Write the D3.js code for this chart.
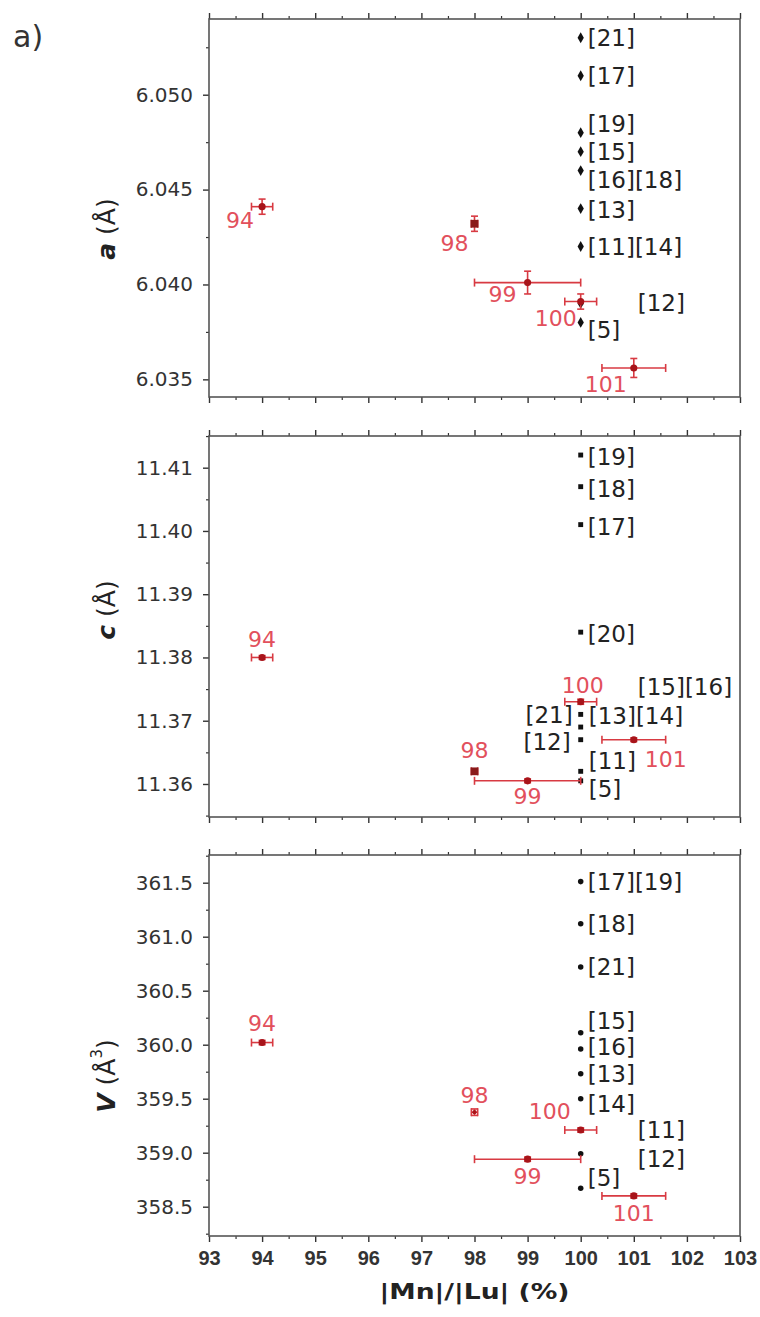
<!DOCTYPE html>
<html><head><meta charset="utf-8">
<script src="https://cdn.jsdelivr.net/npm/d3@7"></script>
<style>body{margin:0;background:#fff}svg{display:block}</style>
</head><body>
<svg id="chart" width="760" height="1317"></svg>
<script>
// ---------- DATA ----------
const xTicks = [93, 94, 95, 96, 97, 98, 99, 100, 101, 102, 103];
const xTitle = "|Mn|/|Lu| (%)";

// red (this work) samples, shared x
const redLabels = ["94", "98", "99", "100", "101"];
const redX      = [94, 98, 99, 100, 101];
const redXErr   = [0.2, 0.06, 1.0, 0.3, 0.6];

// panel a
const aTicks     = [6.035, 6.040, 6.045, 6.050];
const aRedY      = [6.0441, 6.0432, 6.0401, 6.0391, 6.0356];
const aRedYErr   = [0.0004, 0.0004, 0.0006, 0.0004, 0.0005];
const aRefLabels = ["[21]", "[17]", "[19]", "[15]", "[16][18]", "[13]", "[11][14]", "[12]", "[5]"];
const aRefX      = [100, 100, 100, 100, 100, 100, 100, 100, 100];
const aRefY      = [6.053, 6.051, 6.048, 6.047, 6.046, 6.044, 6.042, 6.039, 6.038];

// panel c
const cTicks     = [11.36, 11.37, 11.38, 11.39, 11.40, 11.41];
const cRedY      = [11.380, 11.362, 11.3605, 11.373, 11.367];
const cRedYErr   = [0.0003, 0.0004, 0.0003, 0.0004, 0.0003];
const cRefLabels = ["[19]", "[18]", "[17]", "[20]", "[15][16]", "[13][14]", "[21]", "[12]", "[11]", "[5]"];
const cRefX      = [100, 100, 100, 100, 100, 100, 100, 100, 100, 100];
const cRefY      = [11.412, 11.407, 11.401, 11.384, 11.373, 11.371, 11.369, 11.367, 11.362, 11.3605];

// panel V
const vTicks     = [358.5, 359.0, 359.5, 360.0, 360.5, 361.0, 361.5];
const vRedY      = [360.02, 359.375, 358.94, 359.21, 358.60];
const vRedYErr   = [0.02, 0.03, 0.02, 0.02, 0.02];
const vRefLabels = ["[17][19]", "[18]", "[21]", "[15]", "[16]", "[13]", "[14]", "[11]", "[12]", "[5]"];
const vRefX      = [100, 100, 100, 100, 100, 100, 100, 100, 100, 100];
const vRefY      = [361.51, 361.12, 360.72, 360.11, 359.96, 359.73, 359.50, 359.21, 358.99, 358.67];

// ---------- LAYOUT (pixels / styles) ----------
const X0 = 209, X1 = 740;
const RED_TXT = "#e2505c", RED_BAR = "#d83a42", RED_PT = "#a8141a", INK = "#333";

const panels = [
  { key: "a", top: 19,  bottom: 397,  domain: [6.03407, 6.05399], minor: 0.0025, ticks: aTicks, fmt: d3.format(".3f"),
    redY: aRedY, redYErr: aRedYErr, refLabels: aRefLabels, refX: aRefX, refY: aRefY,
    refSymbol: d3.symbolDiamond, refSize: 34, marker98: "square", titleY: 229,
    redLab: [[-8,14,"end"],[-6,20,"end"],[-11,12,"end"],[-4,17,"end"],[-7,17,"end"]],
    refLab: [[7,0],[7,0],[7,-9],[7,0],[7,9],[7,1],[7,0],[57,0],[7,8]] },
  { key: "c", top: 436, bottom: 817, domain: [11.35478, 11.41501], minor: 0.005, ticks: cTicks, fmt: d3.format(".2f"),
    redY: cRedY, redYErr: cRedYErr, refLabels: cRefLabels, refX: cRefX, refY: cRefY,
    refSymbol: d3.symbolSquare, refSize: 24, marker98: "square", titleY: 610,
    redLab: [[0,-18,"middle"],[0,-21,"middle"],[0,16,"middle"],[2,-16,"middle"],[11,20,"start"]],
    refLab: [[7,2],[7,2],[7,2],[7,2],[57,-15],[8,2],[-8,-12,"end"],[-10,2,"end"],[8,-10],[8,8]] },
  { key: "V", top: 855, bottom: 1236, domain: [358.2287, 361.7565], minor: 0.25, ticks: vTicks, fmt: d3.format(".1f"),
    redY: vRedY, redYErr: vRedYErr, refLabels: vRefLabels, refX: vRefX, refY: vRefY,
    refSymbol: d3.symbolCircle, refSize: 24, marker98: "small", titleY: 1076,
    redLab: [[0,-19,"middle"],[0,-17,"middle"],[0,17,"middle"],[-10,-19,"end"],[0,18,"middle"]],
    refLab: [[7,0],[7,0],[7,0],[7,-12],[7,-2],[7,0],[7,5],[57,0],[57,5],[7,-10]] }
];

const svg = d3.select("#chart");
const x = d3.scaleLinear().domain([93, 103]).range([X0, X1]);
const xMinor = d3.range(93, 103.01, 0.5).filter(v => Math.abs(v - Math.round(v)) > 0.1);

svg.append("text").attr("x", 13).attr("y", 47)
  .attr("font-family", "DejaVu Sans").attr("font-size", 30).attr("fill", INK).text("a)");

panels.forEach((p, pi) => {
  const y = d3.scaleLinear().domain(p.domain).range([p.bottom, p.top]);
  const g = svg.append("g");
  const last = pi === panels.length - 1;

  // y axis major
  const ya = g.append("g").attr("transform", `translate(${X0},0)`)
    .call(d3.axisLeft(y).tickValues(p.ticks).tickFormat(p.fmt).tickSize(6).tickPadding(10));
  ya.select(".domain").remove();
  ya.selectAll("line").attr("stroke", INK).attr("stroke-width", 1.4);
  ya.selectAll("text").attr("font-family", "DejaVu Sans").attr("font-size", 20).attr("fill", INK);
  // y axis minor
  const minorVals = d3.range(Math.ceil(p.domain[0] / p.minor) * p.minor, p.domain[1], p.minor)
    .filter(v => !p.ticks.some(t => Math.abs(t - v) < p.minor / 10));
  const ym = g.append("g").attr("transform", `translate(${X0},0)`)
    .call(d3.axisLeft(y).tickValues(minorVals).tickFormat("").tickSize(3));
  ym.select(".domain").remove();
  ym.selectAll("line").attr("stroke", INK).attr("stroke-width", 1.2);

  // x axes bottom/top
  [["bottom", d3.axisBottom, p.bottom], ["top", d3.axisTop, p.top]].forEach(([side, ax, yy]) => {
    const showLab = side === "bottom" && last;
    const gx = g.append("g").attr("transform", `translate(0,${yy})`)
      .call(ax(x).tickValues(xTicks).tickFormat(showLab ? d3.format("d") : "").tickSize(6).tickPadding(9));
    gx.select(".domain").remove();
    gx.selectAll("line").attr("stroke", INK).attr("stroke-width", 1.4);
    gx.selectAll("text").attr("font-family", "Liberation Sans").attr("font-weight", "bold")
      .attr("font-size", 20).attr("fill", INK);
    const gm = g.append("g").attr("transform", `translate(0,${yy})`)
      .call(ax(x).tickValues(xMinor).tickFormat("").tickSize(3));
    gm.select(".domain").remove();
    gm.selectAll("line").attr("stroke", INK).attr("stroke-width", 1.2);
  });

  // frame
  g.append("rect").attr("x", X0).attr("y", p.top).attr("width", X1 - X0).attr("height", p.bottom - p.top)
    .attr("fill", "none").attr("stroke", "#555").attr("stroke-width", 1.6);

  // y title
  const t = g.append("text")
    .attr("transform", `translate(106,${p.titleY}) rotate(-90)`)
    .attr("text-anchor", "middle").attr("dominant-baseline", "central")
    .attr("font-family", "DejaVu Sans").attr("font-size", 25).attr("fill", "#222");
  t.append("tspan").attr("font-weight", "bold").attr("font-style", "italic").text(p.key);
  t.append("tspan").text(" (Å");
  if (p.key === "V") t.append("tspan").attr("font-size", 15).attr("baseline-shift", "super").text("3");
  t.append("tspan").text(")");

  // reference (black) points
  g.selectAll(".ref").data(p.refY).enter().append("path")
    .attr("d", d3.symbol().type(p.refSymbol).size(p.refSize))
    .attr("transform", (d, i) => `translate(${x(p.refX[i])},${y(d)})`)
    .attr("fill", "#111");
  g.selectAll(".refLab").data(p.refLabels).enter().append("text")
    .attr("x", (d, i) => x(p.refX[i]) + p.refLab[i][0])
    .attr("y", (d, i) => y(p.refY[i]) + p.refLab[i][1])
    .attr("text-anchor", (d, i) => p.refLab[i][2] || "start")
    .attr("dominant-baseline", "central")
    .attr("font-family", "DejaVu Sans").attr("font-size", 23).attr("fill", "#222")
    .text(d => d);

  // red points with error bars
  redX.forEach((xv, i) => {
    const cx = x(xv), cy = y(p.redY[i]);
    const xl = x(xv - redXErr[i]), xr = x(xv + redXErr[i]);
    const yt = y(p.redY[i] + p.redYErr[i]), yb = y(p.redY[i] - p.redYErr[i]);
    const eb = g.append("g").attr("stroke", RED_BAR).attr("stroke-width", 1.6).attr("fill", "none");
    eb.append("line").attr("x1", xl).attr("x2", xr).attr("y1", cy).attr("y2", cy);
    eb.append("line").attr("x1", xl).attr("x2", xl).attr("y1", cy - 4).attr("y2", cy + 4);
    eb.append("line").attr("x1", xr).attr("x2", xr).attr("y1", cy - 4).attr("y2", cy + 4);
    eb.append("line").attr("x1", cx).attr("x2", cx).attr("y1", yt).attr("y2", yb);
    eb.append("line").attr("x1", cx - 3.5).attr("x2", cx + 3.5).attr("y1", yt).attr("y2", yt);
    eb.append("line").attr("x1", cx - 3.5).attr("x2", cx + 3.5).attr("y1", yb).attr("y2", yb);
    const m = xv === 98 ? p.marker98 : "circle";
    g.append("path")
      .attr("d", d3.symbol().type(m === "square" ? d3.symbolSquare : d3.symbolCircle)
        .size(m === "square" ? 60 : (m === "small" ? 14 : 40)))
      .attr("transform", `translate(${cx},${cy})`).attr("fill", m === "square" ? "#8a1a1a" : RED_PT);
    const lp = p.redLab[i];
    g.append("text").attr("x", cx + lp[0]).attr("y", cy + lp[1])
      .attr("text-anchor", lp[2]).attr("dominant-baseline", "central")
      .attr("font-family", "DejaVu Sans").attr("font-size", 22).attr("fill", RED_TXT)
      .text(redLabels[i]);
  });
});

// x title
svg.append("text").attr("x", (X0 + X1) / 2).attr("y", 1291)
  .attr("text-anchor", "middle").attr("dominant-baseline", "central")
  .attr("font-family", "DejaVu Sans").attr("font-weight", "bold").attr("font-size", 22)
  .attr("textLength", 190).attr("lengthAdjust", "spacingAndGlyphs")
  .attr("fill", "#222").text(xTitle);
</script>
</body></html>
